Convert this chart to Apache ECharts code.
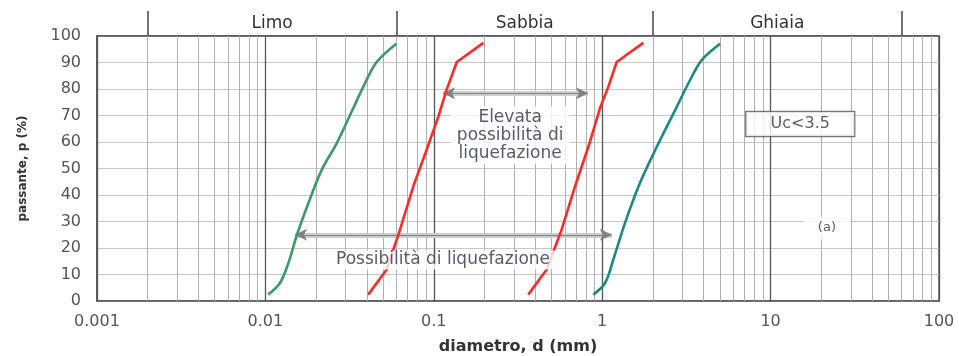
<!DOCTYPE html>
<html>
<head>
<meta charset="utf-8">
<script src="https://cdn.jsdelivr.net/npm/echarts@6/dist/echarts.min.js"></script>
<style>
  html, body { margin: 0; padding: 0; background: #fff; }
  #chart { width: 959px; height: 356px; }
</style>
</head>
<body>
<div id="chart"></div>
<script>
// curve granulometriche: [diametro (mm), passante (%)]
const greenCurve = [[0.0104, 2.4], [0.0122, 6.8], [0.0137, 14.4], [0.0154, 25], [0.018, 36.9],
  [0.0216, 49.5], [0.0265, 59.5], [0.0325, 71.4], [0.039, 82.1], [0.0458, 90.2], [0.060, 97.1]]
const redCurveFine = [[0.0408, 2.4], [0.0525, 11.9], [0.063, 26.9], [0.0755, 43.2], [0.0906, 57],
  [0.1063, 69.5], [0.119, 79.6], [0.137, 90.2], [0.197, 97.4]]
const redCurveCoarse = [[0.364, 2.4], [0.468, 11.9], [0.574, 26.9], [0.689, 43.2], [0.828, 58.2],
  [0.970, 72.7], [1.087, 80.8], [1.219, 90.2], [1.754, 97.4]]
const tealCurve = [[0.885, 2.4], [1.04, 6.8], [1.164, 15.6], [1.365, 29.4], [1.675, 44.5],
  [2.11, 58.2], [2.71, 72], [3.32, 83.3], [3.90, 90.9], [5.01, 97.1]]

// fasce granulometriche (limiti in mm)
const bandNames = ['Limo', 'Sabbia', 'Ghiaia']
const bandLimits = [0.002, 0.06, 2, 60]

// frecce: estremi [d, p]
const arrowLow = [[0.015, 25], [1.14, 25]]
const arrowHigh = [[0.1135, 78.4], [0.824, 78.4]]

// griglia logaritmica secondaria
const minorLines = []
for (let e = -3; e < 2; e++) {
  for (let k = 2; k <= 9; k++) minorLines.push({ xAxis: k * Math.pow(10, e) })
}

const font = 'DejaVu Sans, Verdana, sans-serif'
const chart = echarts.init(document.getElementById('chart'))

const curveSeries = (data, color, smooth) => ({
  type: 'line', data: data, smooth: smooth, showSymbol: false, z: 5,
  lineStyle: { color: color, width: 2.6 }
})

const arrowLine = (pts) => ({
  type: 'line', data: [], z: 6, silent: true,
  markLine: {
    silent: true,
    animation: false,
    precision: 6,
    data: [
      [{ coord: pts[0], symbol: 'none', lineStyle: { color: '#cdcdcd', width: 5, type: 'solid' } },
       { coord: pts[1], symbol: 'none' }],
      [{ coord: pts[0], symbol: 'arrow', lineStyle: { color: '#808080', width: 1, type: 'solid' } },
       { coord: pts[1], symbol: 'arrow' }]
    ],
    symbolSize: [9, 12],
    label: { show: false }
  }
})

const textLabel = (pos, text, extra) => ({
  type: 'scatter', data: [pos], symbolSize: 0, z: 10, silent: true,
  label: Object.assign({
    show: true, position: 'inside', formatter: text,
    fontFamily: font, fontSize: 17, color: '#30304a', backgroundColor: '#fff'
  }, extra)
})

const option = {
  animation: false,
  grid: [
    { left: 97, right: 20, top: 36, bottom: 55, show: true, borderColor: '#555', borderWidth: 1.5,
      outerBoundsMode: 'none', containLabel: false },
    { left: 97, right: 20, top: 11, height: 25, outerBoundsMode: 'none', containLabel: false }
  ],
  xAxis: [
    {
      type: 'log', gridIndex: 0, logBase: 10, min: 0.001, max: 100, interval: 1,
      name: 'diametro, d (mm)', nameLocation: 'middle', nameGap: 38,
      nameTextStyle: { fontFamily: font, fontSize: 16, fontWeight: 'bold', color: '#333' },
      axisLine: { lineStyle: { color: '#555', width: 1.5 } },
      axisTick: { show: false },
      axisLabel: { fontFamily: font, fontSize: 16, color: '#555', margin: 13 },
      splitLine: { show: true, lineStyle: { color: '#555', width: 1.3 } }
    },
    {
      type: 'log', gridIndex: 1, logBase: 10, min: 0.001, max: 100, position: 'top',
      axisLine: { show: true, lineStyle: { color: '#555', width: 1.5 } },
      axisTick: { show: false }, axisLabel: { show: false }, splitLine: { show: false }
    }
  ],
  yAxis: [
    {
      type: 'value', gridIndex: 0, min: 0, max: 100, interval: 10,
      name: 'passante, p (%)', nameLocation: 'middle', nameGap: 68,
      nameTextStyle: { fontFamily: font, fontSize: 12, fontWeight: 'bold', color: '#333' },
      axisLine: { show: true, lineStyle: { color: '#555', width: 1.5 } },
      axisTick: { show: false },
      axisLabel: { fontFamily: font, fontSize: 16, color: '#555', margin: 16 },
      splitLine: { show: true, lineStyle: { color: '#c8c8c8', width: 1 } }
    },
    { type: 'value', gridIndex: 1, min: 0, max: 1, show: false }
  ],
  series: [
    {
      type: 'line', data: [], silent: true, z: 1,
      markLine: {
        silent: true, animation: false, symbol: 'none', label: { show: false }, precision: 6,
        lineStyle: { color: '#b0b0b0', width: 1, type: 'solid' },
        data: minorLines
      }
    },
    {
      type: 'line', xAxisIndex: 1, yAxisIndex: 1, data: [], silent: true,
      markLine: {
        silent: true, animation: false, symbol: 'none', label: { show: false }, precision: 6,
        lineStyle: { color: '#444', width: 1.5, type: 'solid' },
        data: bandLimits.map(v => ({ xAxis: v }))
      },
      markArea: {
        silent: true,
        itemStyle: { color: 'rgba(0,0,0,0)' },
        label: { show: true, position: 'inside', fontFamily: font, fontSize: 17, color: '#333' },
        data: bandNames.map((n, i) => [{ name: n, xAxis: bandLimits[i] }, { xAxis: bandLimits[i + 1] }])
      }
    },
    curveSeries(greenCurve, '#3c9a68', 0.35),
    curveSeries(redCurveFine, '#ff2a2a', false),
    curveSeries(redCurveCoarse, '#ff2a2a', false),
    curveSeries(tealCurve, '#1c8a80', 0.35),
    arrowLine(arrowLow),
    arrowLine(arrowHigh),
    textLabel([0.1135, 15.5], 'Possibilità di liquefazione', { padding: [1, 8] }),
    textLabel([0.284, 62.6], 'Elevata\npossibilità di\nliquefazione', { lineHeight: 18, align: 'center', padding: [2, 6] }),
    textLabel([15, 66.8], 'Uc<3.5', {
      fontSize: 16, width: 96, height: 18, align: 'center', verticalAlign: 'middle',
      borderColor: '#555', borderWidth: 1.2, padding: [3, 6]
    }),
    textLabel([21.6, 27.6], '(a)', { fontSize: 13, padding: [5, 14] })
  ]
}

chart.setOption(option)
</script>
</body>
</html>
